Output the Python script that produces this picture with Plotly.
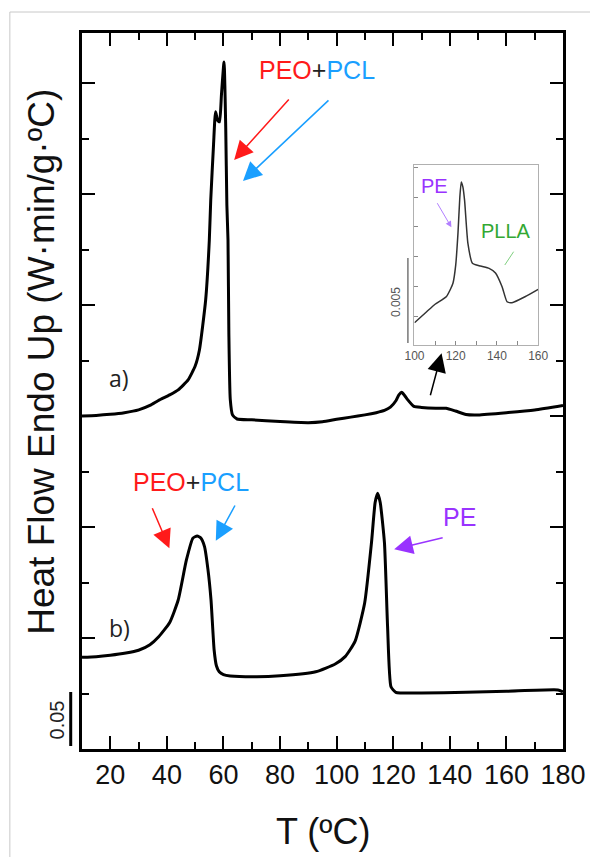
import plotly.graph_objects as go

# ---------------- data ----------------
# curve a) (main axes, W/g units, offset stacked)
temp_a = [10, 15, 20, 25, 30, 34, 37, 41, 44, 47.5, 50, 51.5, 53.7, 55.0, 55.5, 56.5, 57.2,
          58.0, 58.6, 59.3, 60.2, 60.8, 61.2, 61.6, 61.9, 62.4, 63.2, 64.8, 70, 80, 90, 95,
          100, 105, 110, 114, 116.9, 119, 121, 122, 123, 124, 125, 127.3, 130, 135, 138.7,
          142, 145.7, 150, 160, 170, 180]
flow_a = [0.300, 0.3005, 0.3015, 0.3030, 0.3055, 0.3095, 0.3140, 0.3190, 0.3235, 0.3325,
          0.3450, 0.3595, 0.4045, 0.4586, 0.4946, 0.545, 0.574, 0.566, 0.565, 0.590, 0.619,
          0.560, 0.490, 0.4586, 0.375, 0.315, 0.301, 0.2973, 0.2966, 0.2950, 0.2940, 0.2948,
          0.2970, 0.2990, 0.3010, 0.3030, 0.3050, 0.3080, 0.3140, 0.3190, 0.3214, 0.3185,
          0.3150, 0.3086, 0.3077, 0.3070, 0.3070, 0.3045, 0.3014, 0.3010, 0.3030, 0.3055,
          0.3095]

# curve b)
temp_b = [10, 15, 20, 25.5, 30, 34, 37.1, 41, 44, 46.9, 49.2, 50.7, 52, 53.3, 54.5, 55.6,
          56.7, 57.5, 58.5, 60, 62.4, 71.8, 80, 92.6, 99.5, 103, 106.5, 109.9, 112.3, 113.6,
          114.5, 115.4, 116.9, 118.0, 119.2, 120.9, 130, 145.7, 160, 178.2, 180]
flow_b = [0.0826, 0.0832, 0.0845, 0.0865, 0.0890, 0.0940, 0.1012, 0.1140, 0.1342, 0.1703,
          0.1900, 0.1919, 0.1900, 0.1823, 0.1620, 0.1342, 0.0892, 0.0750, 0.0696, 0.0670,
          0.0658, 0.0651, 0.0660, 0.0696, 0.0766, 0.0832, 0.0970, 0.1315, 0.1856, 0.2220,
          0.2304, 0.2220, 0.1856, 0.1102, 0.0561, 0.0511, 0.0505, 0.0511, 0.0520, 0.0532,
          0.0515]

# inset (zoom of curve a, 100-160 C)
temp_in = [100, 105.9, 110, 115.4, 117.5, 118.7, 120, 121.1, 122, 122.7, 123.5, 124.3,
           125.9, 128.1, 132, 136.2, 139.3, 142.5, 144.9, 147.3, 153.6, 160]
flow_in = [0.00131, 0.00196, 0.00240, 0.00284, 0.00330, 0.00365, 0.00470, 0.00659, 0.00870,
           0.00960, 0.00930, 0.00853, 0.00600, 0.00482, 0.00465, 0.00451, 0.00424, 0.00343,
           0.00255, 0.00249, 0.00284, 0.00328]

x_ticks = [20, 40, 60, 80, 100, 120, 140, 160, 180]
inset_x_ticks = [100, 120, 140, 160]

# ---------------- layout helpers ----------------
# page coordinates (the plot div sits at an 8px body offset)
OFF = 8
W, H = 598 - OFF, 857 - OFF
L, R, T, B = 82, 572, 33, 749


def px(x):
    return (x - L) / (R - L)


def py(y):
    return (B - y) / (B - T)


FONT = "Liberation Sans, Arial, sans-serif"
RED = "#ff1a1a"
BLUE = "#1a9fff"
PURPLE = "#9933ff"
GREEN = "#33a833"

fig = go.Figure()
fig.add_trace(go.Scatter(x=temp_a, y=flow_a, mode="lines",
                         line=dict(color="black", width=3, shape="spline", smoothing=0.5),
                         hoverinfo="skip", showlegend=False))
fig.add_trace(go.Scatter(x=temp_b, y=flow_b, mode="lines",
                         line=dict(color="black", width=3, shape="spline", smoothing=0.5),
                         hoverinfo="skip", showlegend=False))
fig.add_trace(go.Scatter(x=temp_in, y=flow_in, mode="lines", xaxis="x2", yaxis="y2",
                         line=dict(color="#333333", width=1.5, shape="spline", smoothing=0.5),
                         hoverinfo="skip", showlegend=False))

ymax = (B - T) / 55.5 * 0.05

fig.update_layout(
    width=W, height=H,
    margin=dict(l=L - OFF, r=W + OFF - R, t=T - OFF, b=H + OFF - B),
    paper_bgcolor="white", plot_bgcolor="white",
    font=dict(family=FONT, color="black"),
    xaxis=dict(range=[10, 180], tickvals=x_ticks, ticks="inside", ticklen=13, tickwidth=2,
               tickcolor="black", showline=True, linewidth=2.5, linecolor="black",
               mirror="ticks", showgrid=False, zeroline=False,
               tickfont=dict(size=27, family=FONT, color="#111"),
               minor=dict(dtick=10, tick0=0, ticks="inside", ticklen=7, tickwidth=2,
                          tickcolor="black", showgrid=False)),
    yaxis=dict(range=[0, ymax], tick0=0, dtick=0.1, ticks="inside", ticklen=13, tickwidth=2,
               tickcolor="black", showline=True, linewidth=2.5, linecolor="black",
               mirror="ticks", showgrid=False, zeroline=False, showticklabels=False,
               minor=dict(dtick=0.05, tick0=0, ticks="inside", ticklen=7, tickwidth=2,
                          tickcolor="black", showgrid=False)),
    xaxis2=dict(domain=[px(420.7), px(546.7)], anchor="y2", range=[100, 160],
                tickvals=inset_x_ticks, ticks="inside", ticklen=4, tickwidth=1,
                tickcolor="#888", showline=True, linewidth=1, linecolor="#b0b0b0",
                mirror=True, showgrid=False, zeroline=False,
                tickfont=dict(size=12, family=FONT, color="#555"),
                minor=dict(dtick=10, tick0=100, ticks="inside", ticklen=4, tickwidth=1,
                           tickcolor="#888", showgrid=False)),
    yaxis2=dict(domain=[py(345), py(165)], anchor="x2", range=[0, 0.0106],
                tick0=0.00167, dtick=0.00176, ticks="inside", ticklen=4, tickwidth=1,
                tickcolor="#888", showline=True, linewidth=1, linecolor="#b0b0b0",
                mirror=True, showgrid=False, zeroline=False, showticklabels=False),
)

shapes = []
# outer light frame (top and left edges)
shapes.append(dict(type="line", xref="paper", yref="paper", x0=px(8.5), y0=py(12),
                   x1=px(640), y1=py(12), line=dict(color="#c8c8c8", width=1), layer="below"))
shapes.append(dict(type="line", xref="paper", yref="paper", x0=px(8.5), y0=py(12),
                   x1=px(8.5), y1=py(900), line=dict(color="#c8c8c8", width=1), layer="below"))
# scale bar main
shapes.append(dict(type="line", xref="paper", yref="paper", x0=px(70.5), x1=px(70.5),
                   y0=py(746), y1=py(692), line=dict(color="black", width=3)))
# scale bar inset
shapes.append(dict(type="line", xref="paper", yref="paper", x0=px(414), x1=px(414),
                   y0=py(343), y1=py(258), line=dict(color="#777", width=1.5)))
# PLLA pointer line
shapes.append(dict(type="line", xref="paper", yref="paper", x0=px(521.7), x1=px(512.7),
                   y0=py(251.7), y1=py(265), line=dict(color="#7fcf7f", width=1)))
fig.update_layout(shapes=shapes)

ann = []


def text(x, y, s, size, color="black", angle=0, family=FONT):
    ann.append(dict(xref="paper", yref="paper", x=px(x), y=py(y), text=s, showarrow=False,
                    xanchor="center", yanchor="middle", textangle=angle,
                    font=dict(size=size, color=color, family=family)))


def arrow(x0, y0, x1, y1, color, width=1.5, size=2.5, head=2):
    ann.append(dict(xref="paper", yref="paper", x=px(x1), y=py(y1), ax=x0 - x1, ay=y0 - y1,
                    axref="pixel", ayref="pixel", text="", showarrow=True, arrowhead=head,
                    arrowsize=size, arrowwidth=width, arrowcolor=color, standoff=0))


mix = ("<span style='color:%s'>PEO</span><span style='color:#222'>+</span>"
       "<span style='color:%s'>PCL</span>") % (RED, BLUE)
text(321, 70, mix, 25)
text(193.3, 482, mix, 25)
text(467, 517, "PE", 25, PURPLE)
text(441.5, 186, "PE", 20, PURPLE)
text(513.5, 231, "PLLA", 20, GREEN)
text(120, 378, "a)", 23, "#222", family="Open Sans, sans-serif")
text(120, 628, "b)", 23, "#222", family="Open Sans, sans-serif")
text(40, 362, "Heat Flow Endo Up (W·min/g·ºC)", 37, "#111", angle=-90)
text(327, 832, "T (ºC)", 36, "#111")
text(57, 720, "0.05", 20, "#222", angle=-90)
text(402, 302, "0.005", 12, "#555", angle=-90)

arrow(293, 98, 237, 160, RED)
arrow(333, 99, 246, 181, BLUE)
arrow(153.3, 506.7, 171, 548.3, RED)
arrow(238.3, 504, 218.3, 540.7, BLUE)
arrow(450, 537.3, 400, 549.3, PURPLE)
arrow(436.7, 396.7, 448.3, 353.3, "black")
arrow(443.3, 201.7, 458.3, 227.3, "#b27fff", width=1, size=1.2)
fig.update_layout(annotations=ann)

fig.write_html("out.html", post_script="document.body.style.overflow='hidden';")
